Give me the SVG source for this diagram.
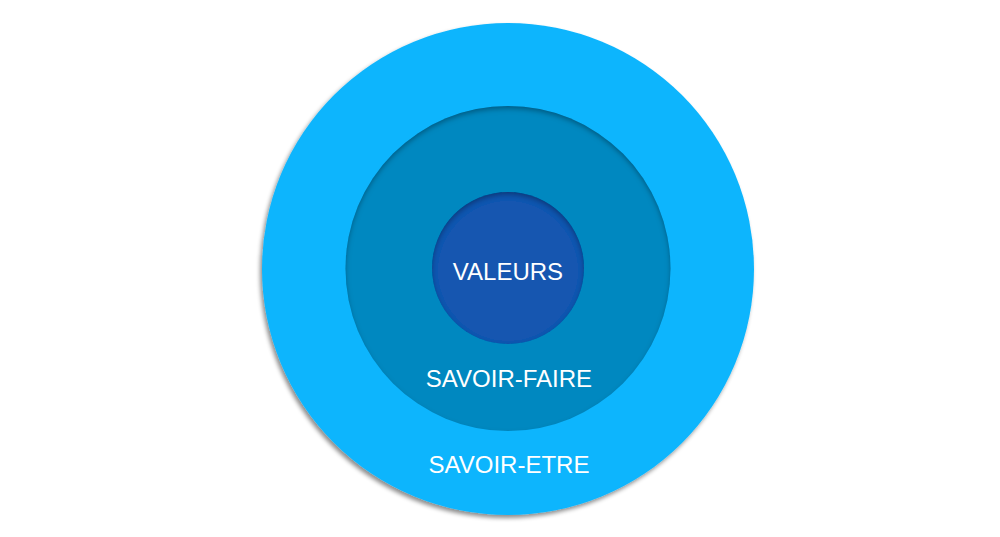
<svg xmlns="http://www.w3.org/2000/svg" width="1000" height="537" viewBox="0 0 1000 537">
<defs>
<filter id="drop" x="-10%" y="-10%" width="120%" height="120%">
<feGaussianBlur in="SourceAlpha" stdDeviation="2"/>
<feOffset dx="-2" dy="3" result="b"/>
<feFlood flood-color="#000" flood-opacity="0.45"/>
<feComposite in2="b" operator="in" result="s"/>
<feMerge><feMergeNode in="s"/><feMergeNode in="SourceGraphic"/></feMerge>
</filter>
<filter id="inset" x="-10%" y="-10%" width="120%" height="120%">
<feFlood flood-color="#000" flood-opacity="0.55" result="f"/>
<feComposite in="f" in2="SourceAlpha" operator="out" result="inv"/>
<feGaussianBlur in="inv" stdDeviation="2.5" result="bl"/>
<feOffset in="bl" dx="0" dy="3" result="off"/>
<feComposite in="off" in2="SourceAlpha" operator="in" result="sh"/>
<feMerge><feMergeNode in="SourceGraphic"/><feMergeNode in="sh"/></feMerge>
</filter>
<style>
.lbl{font-family:"Liberation Sans",Arial,sans-serif;font-size:24px;fill:#ffffff;text-anchor:middle}
</style>
</defs>
<rect width="1000" height="537" fill="#ffffff"/>
<g id="savoir-etre">
<circle cx="508" cy="269" r="246" fill="#10b5fd" filter="url(#drop)"/>
<text class="lbl" x="509" y="473">SAVOIR-ETRE</text>
</g>
<g id="savoir-faire">
<circle cx="508" cy="268.5" r="162.5" fill="#0288c0" filter="url(#inset)"/>
<text class="lbl" x="509" y="387">SAVOIR-FAIRE</text>
</g>
<g id="valeurs">
<circle cx="508" cy="268" r="76" fill="#1557b0" filter="url(#inset)"/>
<text class="lbl" x="508" y="280">VALEURS</text>
</g>
<g id="connectors"/>
</svg>
